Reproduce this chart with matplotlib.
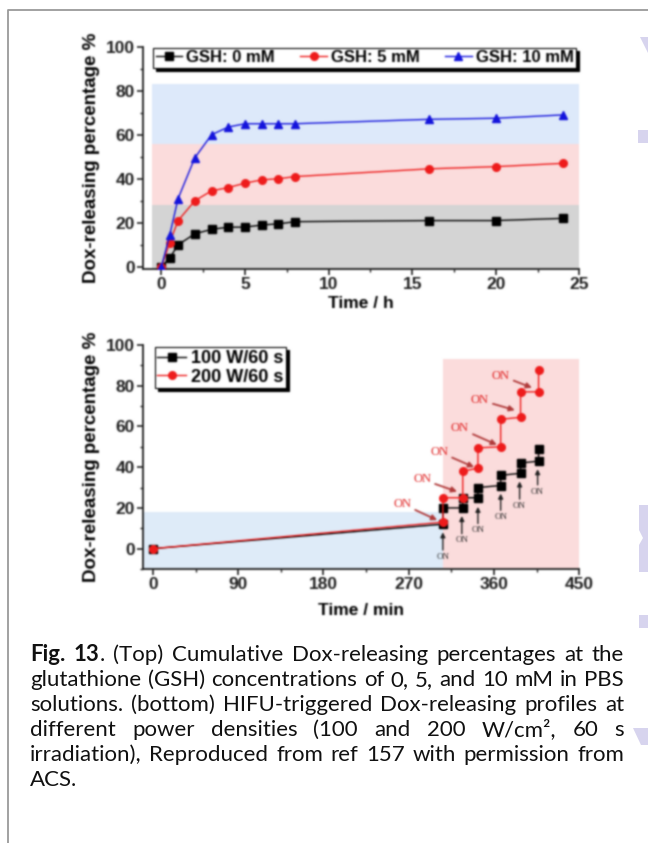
import numpy as np
import matplotlib
matplotlib.use("Agg")
import matplotlib.pyplot as plt
from matplotlib.patches import Polygon
from matplotlib.lines import Line2D
from matplotlib.ticker import MultipleLocator

W, H = 648, 843

# --- release vs. time at three GSH levels ---
t_h = [0, 0.5, 1, 2, 3, 4, 5, 6, 7, 8, 16, 20, 24]
gsh_0 = [0, 4, 10, 15, 17, 18, 18, 19, 19.5, 20.5, 21, 21, 22]
gsh_5 = [0, 11, 21, 30, 34.5, 36, 38, 39.5, 40, 41, 44.5, 45.5, 47]
gsh_10 = [0, 14.5, 31, 49.5, 60, 63.5, 65, 65, 65, 65, 67, 67.5, 69]

# --- HIFU pulsed release ---
t_min = [0, 306, 306, 327, 327, 343, 343, 367, 367, 388, 388, 407, 407]
w100 = [0, 12, 20, 20, 25, 25, 30, 31, 36, 37, 42, 43, 49]
w200 = [0, 13, 25, 25, 38, 39.5, 49.5, 50, 63.5, 64.5, 77, 77, 87.5]

# "ON" markers: black ones point straight up, red ones point diagonally
on_black_t = [306, 326, 343, 367, 387, 406]
on_black_text_y = [-4, 4, 9, 15.5, 21, 28]
on_black_tip_y = [8, 16, 20.5, 27, 33, 39]
on_red_text = [(263, 22), (284, 34), (302, 47.5), (324, 59), (345, 73), (367, 85)]
on_red_tip = [(300, 14), (321, 28), (339, 40), (363, 51), (382, 68), (400, 79)]

caption_lines = [
    "Fig. 13. (Top) Cumulative Dox-releasing percentages at the",
    "glutathione (GSH) concentrations of 0, 5, and 10 mM in PBS",
    "solutions. (bottom) HIFU-triggered Dox-releasing profiles at",
    "different power densities (100 and 200 W/cm\u00b2, 60 s",
    "irradiation), Reproduced from ref 157 with permission from",
    "ACS.",
]

plt.rcParams["font.family"] = ["Liberation Sans", "DejaVu Sans"]
plt.rcParams["font.weight"] = "bold"
plt.rcParams["axes.labelweight"] = "bold"

fig = plt.figure(figsize=(W / 100, H / 100), dpi=100)


def px_axes(left, top, right, bottom):
    return fig.add_axes([left / W, 1 - bottom / H, (right - left) / W, (bottom - top) / H])


def style_axes(ax):
    for s in ["top", "right"]:
        ax.spines[s].set_visible(False)
    for s in ["left", "bottom"]:
        ax.spines[s].set_linewidth(1.3)
        ax.spines[s].set_color("#202020")
    ax.tick_params(which="major", direction="out", length=4, width=1.2,
                   labelsize=12.5, pad=2, colors="#202020")
    ax.tick_params(which="minor", direction="out", length=2.5, width=1.0, colors="#202020")


# ---------------- top panel ----------------
ax1 = px_axes(143, 46.7, 579.3, 269)
ax1.set_xlim(-1.1, 25)
ax1.set_ylim(-1, 100)
ax1.axhspan(-1, 28, xmin=0.02, xmax=1.0, color="#d4d4d4", lw=0, zorder=0)
ax1.axhspan(28, 56, xmin=0.02, xmax=1.0, color="#fbdcdc", lw=0, zorder=0)
ax1.axhspan(56, 83, xmin=0.02, xmax=1.0, color="#dde9fa", lw=0, zorder=0)

ax1.plot(t_h, gsh_0, "-s", color="black", ms=5.5, lw=1.0, label="GSH: 0 mM", zorder=3)
ax1.plot(t_h, gsh_5, "-o", color="#ee1c1c", ms=5.5, lw=1.0, label="GSH: 5 mM", zorder=3)
ax1.plot(t_h, gsh_10, "-^", color="#1414dc", ms=6, lw=1.0, label="GSH: 10 mM", zorder=3)

ax1.xaxis.set_major_locator(MultipleLocator(5))
ax1.xaxis.set_minor_locator(MultipleLocator(2.5))
ax1.yaxis.set_major_locator(MultipleLocator(20))
ax1.yaxis.set_minor_locator(MultipleLocator(10))
style_axes(ax1)
ax1.set_xlabel("Time / h", fontsize=12.5, labelpad=3)
ax1.set_ylabel("Dox-releasing percentage %", fontsize=13.5, labelpad=4)

leg1 = ax1.legend(loc="upper left", bbox_to_anchor=(0.023, 0.995, 0.97, 0.0), mode="expand",
                  ncol=3, fontsize=12, numpoints=1, handlelength=1.6, handletextpad=0.25,
                  columnspacing=0.4, borderpad=0.15, borderaxespad=0, fancybox=False,
                  shadow={"color": "black", "alpha": 1.0})
leg1.get_frame().set_edgecolor("black")
leg1.get_frame().set_linewidth(0.8)

# ---------------- bottom panel ----------------
ax2 = px_axes(143, 345, 579.3, 569)
ax2.set_xlim(-10.5, 450)
ax2.set_ylim(-10, 100)
ax2.fill_between([-10.5, 306], -10, 18, color="#deebf8", lw=0, zorder=0)
ax2.fill_between([306, 450], -10, 93, color="#fbdcdc", lw=0, zorder=0)

ax2.plot(t_min, w100, "-s", color="black", ms=5.5, lw=1.0, label="100 W/60 s", zorder=3)
ax2.plot(t_min, w200, "-o", color="#ee1c1c", ms=5.5, lw=1.0, label="200 W/60 s", zorder=4)

for t, ty, tip in zip(on_black_t, on_black_text_y, on_black_tip_y):
    ax2.annotate("ON", xy=(t, tip), xytext=(t, ty), ha="center", va="center",
                 fontsize=6.5, family="Liberation Serif", weight="normal", color="#303030",
                 arrowprops=dict(arrowstyle="-|>", color="#202020", lw=1.0,
                                 mutation_scale=7, shrinkA=0, shrinkB=0), zorder=5)
for (tx, ty), (px, py) in zip(on_red_text, on_red_tip):
    ax2.annotate("ON", xy=(px, py), xytext=(tx, ty), ha="center", va="center",
                 fontsize=9, family="Liberation Serif", weight="normal", color="#e02020",
                 arrowprops=dict(arrowstyle="-|>", color="#b03a3a", lw=1.3,
                                 mutation_scale=8, shrinkA=1, shrinkB=0), zorder=5)

ax2.xaxis.set_major_locator(MultipleLocator(90))
ax2.xaxis.set_minor_locator(MultipleLocator(45))
ax2.yaxis.set_major_locator(MultipleLocator(20))
ax2.yaxis.set_minor_locator(MultipleLocator(10))
style_axes(ax2)
ax2.set_xlabel("Time / min", fontsize=12.5, labelpad=8)
ax2.set_ylabel("Dox-releasing percentage %", fontsize=13.5, labelpad=4)

leg2 = ax2.legend(loc="upper left", bbox_to_anchor=(0.027, 0.99), fontsize=13, numpoints=1,
                  handlelength=1.6, handletextpad=0.25, labelspacing=0.1, borderpad=0.15,
                  borderaxespad=0, fancybox=False, shadow={"color": "black", "alpha": 1.0})
leg2.get_frame().set_edgecolor("black")
leg2.get_frame().set_linewidth(0.8)

# ---------------- page frame and side marks ----------------
fig.add_artist(Line2D([8 / W, 8 / W, 1.0], [0.0, 1 - 10 / H, 1 - 10 / H],
                      transform=fig.transFigure, color="#9a9a9a", lw=1.3))

lav = "#d7d4ee"


def px_poly(pts):
    return Polygon([(x / W, 1 - y / H) for x, y in pts], closed=True,
                   transform=fig.transFigure, facecolor=lav, edgecolor="none")


for pts in [
    [(640, 37), (648, 37), (648, 53)],
    [(638, 130), (648, 130), (648, 143), (638, 143)],
    [(639, 505), (648, 505), (648, 572), (639, 572), (639, 545), (643, 538), (639, 530)],
    [(639, 615), (648, 615), (648, 628), (639, 628)],
    [(633, 728), (648, 728), (648, 745), (641, 745)],
]:
    fig.add_artist(px_poly(pts))

# ---------------- justified caption ----------------
CAP_FONT = ["Lato", "DejaVu Sans"]
CAP_FS = 16
x0, x1 = 30, 624
base0, step = 661, 25

renderer = fig.canvas.get_renderer()


def text_width(s, weight):
    t = fig.text(0, 0, s, fontsize=CAP_FS, family=CAP_FONT, weight=weight)
    w = t.get_window_extent(renderer).width
    t.remove()
    return w


space_w = text_width("a a", "normal") - text_width("aa", "normal")

for i, line in enumerate(caption_lines):
    words = []
    for w in line.split(" "):
        if i == 0 and w == "Fig.":
            words.append([(w, "bold")])
        elif i == 0 and w == "13.":
            words.append([("13", "bold"), (".", "normal")])
        else:
            words.append([(w, "normal")])
    widths = [sum(text_width(s, wt) for s, wt in word) for word in words]
    last = i == len(caption_lines) - 1
    gap = space_w if last else (x1 - x0 - sum(widths)) / (len(words) - 1)
    y = 1 - (base0 + i * step) / H
    x = x0
    for word, ww in zip(words, widths):
        cx = x
        for s, wt in word:
            fig.text(cx / W, y, s, fontsize=CAP_FS, family=CAP_FONT, weight=wt,
                     color="#111111", ha="left", va="baseline")
            cx += text_width(s, wt)
        x += ww + gap

# the chart panels are a soft raster on the page; soften only that block
fig.canvas.draw()
img = np.asarray(fig.canvas.buffer_rgba()).astype(float)
sigma = 0.9
r = np.arange(-2, 3)
k = np.exp(-r ** 2 / (2 * sigma ** 2))
k /= k.sum()
y_a, y_b, x_a, x_b = 20, 624, 50, 632
block = img[y_a - 2:y_b + 2, x_a - 2:x_b + 2]
tmp = sum(k[j] * block[:, j:j + block.shape[1] - 4] for j in range(5))
out = sum(k[j] * tmp[j:j + tmp.shape[0] - 4, :] for j in range(5))
img[y_a:y_b, x_a:x_b] = out
plt.imsave("out.png", np.clip(img, 0, 255).astype(np.uint8))
